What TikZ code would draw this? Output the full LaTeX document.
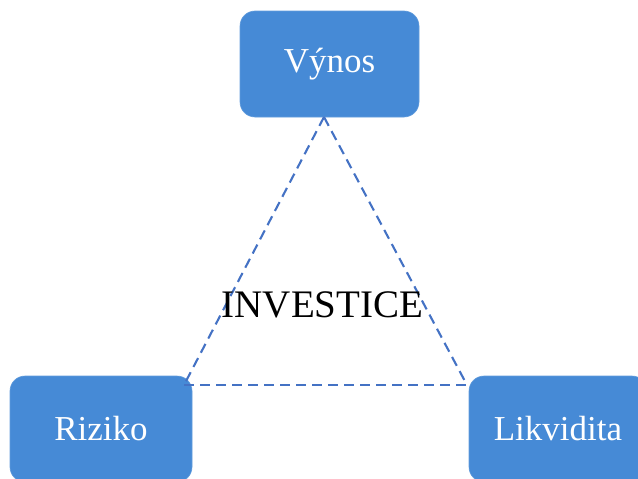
\documentclass[tikz,border=0pt]{standalone}
\usepackage{fontspec}
\setmainfont{Liberation Serif}
\definecolor{boxblue}{RGB}{70,138,214}
\definecolor{lineblue}{RGB}{68,114,196}
\begin{document}
\begin{tikzpicture}[x=1pt,y=-1pt,
  box/.style={fill=boxblue,draw=boxblue!85!white,line width=0.6pt,rounded corners=15pt,minimum width=179pt,minimum height=106pt,inner sep=0pt,text=white,font=\fontsize{35}{40}\selectfont},
  tri/.style={draw=lineblue,line width=2.1pt,dash pattern=on 10pt off 6pt}]
\useasboundingbox (0,0) rectangle (638,479);
\node[box] (vynos) at (329.5,64) {Výnos};
\node[box,minimum width=182pt] (riziko) at (101,429) {Riziko};
\node[box,minimum width=178pt] (likvidita) at (558,429) {Likvidita};
\coordinate (t) at (324,117);
\coordinate (l) at (184,385);
\coordinate (r) at (467,385);
\draw[tri] (t) -- (l);
\draw[tri] (l) -- (r);
\draw[tri] (t) -- (r);
\node[font=\fontsize{39}{44}\selectfont,inner sep=0pt] (inv) at (322.5,305) {INVESTICE};
\end{tikzpicture}
\end{document}
